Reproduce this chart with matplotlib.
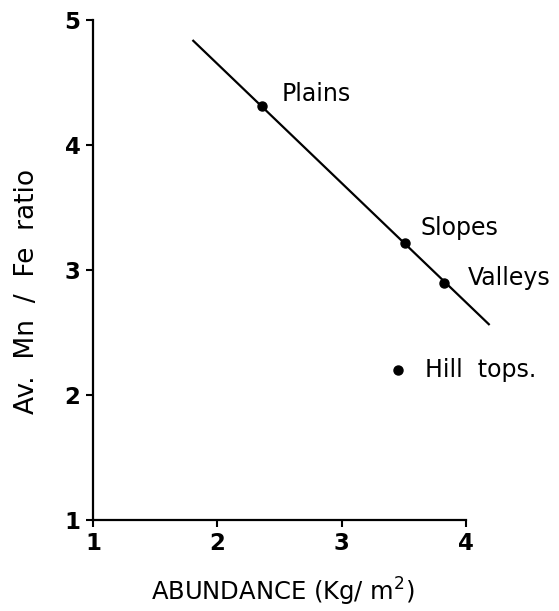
import numpy as np
import matplotlib
matplotlib.use('Agg')
import matplotlib.pyplot as plt

# sites and measured values
sites = ['Plains', 'Slopes', 'Valleys', 'Hill  tops.']
abundance = [2.36, 3.51, 3.82, 3.45]
mn_fe = [4.31, 3.22, 2.90, 2.20]

# fitted line end points
fit_x = [1.80, 4.19]
fit_y = [4.84, 2.56]

xticks = [1, 2, 3, 4]
yticks = [1, 2, 3, 4, 5]

plt.rcParams['font.family'] = ['DejaVu Sans']

fig = plt.figure(figsize=(5.59, 6.11), dpi=100)
ax = fig.add_axes([93 / 559, 91 / 611, 373 / 559, 500 / 611])

ax.plot(fit_x, fit_y, color='black', lw=1.6, clip_on=False, solid_capstyle='butt')
ax.plot(abundance, mn_fe, 'o', color='black', ms=6.5, clip_on=False)

label_offsets = [(20, 12), (15, 14), (24, 5), (27, 0)]
for name, x, y, off in zip(sites, abundance, mn_fe, label_offsets):
	ax.annotate(name, (x, y), xytext=off, textcoords='offset pixels',
		ha='left', va='center', fontsize=17, annotation_clip=False)

ax.set_xlim(1, 4)
ax.set_ylim(1, 5)
ax.set_xticks(xticks)
ax.set_yticks(yticks)
ax.set_xticklabels([str(t) for t in xticks], fontsize=16.5, fontweight='bold')
ax.set_yticklabels([str(t) for t in yticks], fontsize=16.5, fontweight='bold')
ax.tick_params(axis='both', direction='out', length=5, width=1.5, pad=4)

for side in ['top', 'right']:
	ax.spines[side].set_visible(False)
for side in ['left', 'bottom']:
	ax.spines[side].set_linewidth(1.6)

ax.set_xlabel('ABUNDANCE (Kg/ m$^{2}$)', fontsize=17.5)
ax.xaxis.set_label_coords((283 - 93) / 373, -(592 - 520) / 500)
ax.xaxis.label.set_va('center')
ax.set_ylabel('Av.  Mn  /  Fe  ratio', fontsize=19)
ax.yaxis.set_label_coords(-(93 - 27) / 373, (520 - 291) / 500)
ax.yaxis.label.set_va('center')

fig.savefig('out.png', dpi=100)
